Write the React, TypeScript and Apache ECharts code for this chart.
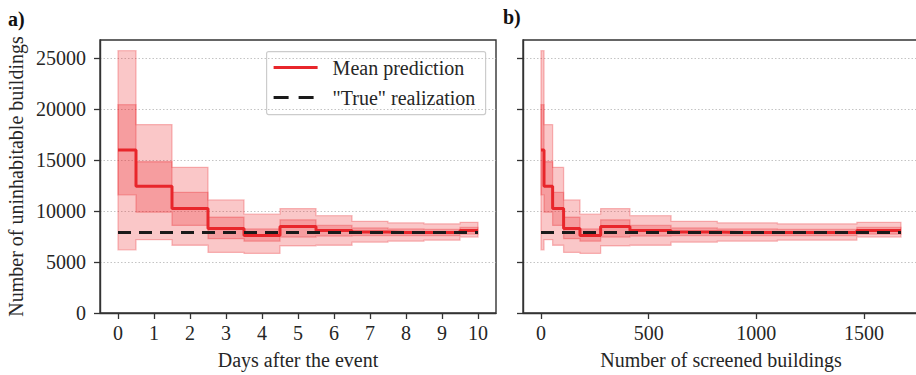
import React, { useEffect, useRef } from "react";
import * as echarts from "echarts";

// ---- data ----
const days = [0, 1, 2, 3, 4, 5, 6, 7, 8, 9, 10];
const screenedBuildings = [0, 28, 80, 130, 232, 322, 504, 704, 934, 1262, 1672];
const meanPrediction = [16000, 12450, 10250, 8300, 7600, 8500, 8100, 7950, 7900, 7900, 8100];
const outerLow = [6200, 7200, 6650, 5950, 5850, 6600, 6650, 6950, 7050, 7150, 7450];
const outerHigh = [25750, 18500, 14300, 11100, 9700, 10250, 9550, 9000, 8850, 8750, 8900];
const innerLow = [11600, 9900, 8600, 7300, 7050, 7450, 7550, 7600, 7600, 7600, 7750];
const innerHigh = [20450, 14850, 11850, 9400, 8250, 9150, 8600, 8350, 8250, 8200, 8400];
const trueRealization = 7900;

const yTicks = [0, 5000, 10000, 15000, 20000, 25000];
const dayTicks = [0, 1, 2, 3, 4, 5, 6, 7, 8, 9, 10];
const screenedTicks = [0, 500, 1000, 1500];

const FONT = "Liberation Serif";
const AXIS_COLOR = "#333333";
const RED = "#e8262b";
const BAND_FILL = "rgba(235, 30, 35, 0.25)";
const BAND_EDGE = "rgba(235, 30, 35, 0.28)";

function bandSeries(xs: number[], low: number[], high: number[], idx: number, z: number) {
  return {
    type: "custom",
    xAxisIndex: idx,
    yAxisIndex: idx,
    silent: true,
    z,
    clip: false,
    data: xs.map((x, i) => [x, low[i], high[i]]),
    encode: { x: 0, y: [1, 2] },
    renderItem: (params: any, api: any) => {
      if (params.dataIndex !== 0) return null;
      const n = xs.length;
      const xv: number[] = [];
      const lo: number[] = [];
      const hi: number[] = [];
      for (let i = 0; i < n; i++) {
        xv.push(api.value(0, i));
        lo.push(api.value(1, i));
        hi.push(api.value(2, i));
      }
      // step 'mid' boundaries
      const b: number[] = [xv[0]];
      for (let i = 1; i < n; i++) b.push((xv[i - 1] + xv[i]) / 2);
      b.push(xv[n - 1]);
      const pts: number[][] = [];
      for (let i = 0; i < n; i++) {
        pts.push(api.coord([b[i], hi[i]]));
        pts.push(api.coord([b[i + 1], hi[i]]));
      }
      for (let i = n - 1; i >= 0; i--) {
        pts.push(api.coord([b[i + 1], lo[i]]));
        pts.push(api.coord([b[i], lo[i]]));
      }
      return {
        type: "polygon",
        shape: { points: pts },
        style: { fill: BAND_FILL, stroke: BAND_EDGE, lineWidth: 1.3 },
      };
    },
  };
}

function panelSeries(xs: number[], idx: number) {
  return [
    bandSeries(xs, outerLow, outerHigh, idx, 2),
    bandSeries(xs, innerLow, innerHigh, idx, 3),
    {
      type: "line",
      name: "Mean prediction",
      xAxisIndex: idx,
      yAxisIndex: idx,
      step: "middle",
      symbol: "none",
      silent: true,
      z: 4,
      lineStyle: { color: RED, width: 3 },
      data: xs.map((x, i) => [x, meanPrediction[i]]),
    },
    {
      type: "line",
      name: '"True" realization',
      xAxisIndex: idx,
      yAxisIndex: idx,
      symbol: "none",
      silent: true,
      z: 5,
      lineStyle: { color: "#1a1a1a", width: 3, type: [13, 8] },
      data: [
        [xs[0], trueRealization],
        [xs[xs.length - 1], trueRealization],
      ],
    },
  ];
}

const labelStyle = { fontFamily: FONT, fontSize: 20, color: "#262626" };
const plain = (v: number) => String(v);

function xAxis(idx: number, min: number, max: number, ticks: number[], name: string) {
  return {
    type: "value",
    gridIndex: idx,
    min,
    max,
    name,
    nameLocation: "middle",
    nameGap: 37,
    nameTextStyle: { fontFamily: FONT, fontSize: 20, color: "#262626" },
    axisLine: { show: true, onZero: false, lineStyle: { color: AXIS_COLOR, width: 1.4 } },
    axisTick: { show: true, length: 6, customValues: ticks, lineStyle: { color: AXIS_COLOR, width: 1.3 } },
    axisLabel: { ...labelStyle, margin: 10, customValues: ticks, formatter: plain },
    splitLine: { show: false },
  };
}

function yAxis(idx: number, showLabels: boolean) {
  return {
    type: "value",
    gridIndex: idx,
    min: 0,
    max: 26800,
    interval: 5000,
    name: showLabels ? "Number of uninhabitable buildings" : "",
    nameLocation: "middle",
    nameGap: 74,
    nameTextStyle: { fontFamily: FONT, fontSize: 20, color: "#262626" },
    axisLine: { show: true, onZero: false, lineStyle: { color: AXIS_COLOR, width: 1.4 } },
    axisTick: { show: true, length: 6, customValues: yTicks, lineStyle: { color: AXIS_COLOR, width: 1.3 } },
    axisLabel: { ...labelStyle, show: showLabels, margin: 14, customValues: yTicks, formatter: plain },
    splitLine: { show: true, lineStyle: { color: "#c4c4c4", width: 1, type: [1.5, 2] } },
  };
}

export default function App() {
  const ref = useRef<HTMLDivElement>(null);
  useEffect(() => {
    if (!ref.current) return;
    const chart = echarts.init(ref.current, null, { renderer: "svg" });
    chart.setOption({
      animation: false,
      backgroundColor: "#ffffff",
      grid: [
        { left: 100, top: 40, width: 396, height: 275, show: true, borderColor: AXIS_COLOR, borderWidth: 1.4, backgroundColor: "transparent" },
        { left: 523, top: 40, width: 396, height: 275, show: true, borderColor: AXIS_COLOR, borderWidth: 1.4, backgroundColor: "transparent" },
      ],
      xAxis: [
        xAxis(0, -0.5, 10.5, dayTicks, "Days after the event"),
        xAxis(1, -83.6, 1755.6, screenedTicks, "Number of screened buildings"),
      ],
      yAxis: [yAxis(0, true), yAxis(1, false)],
      series: [...panelSeries(days, 0), ...panelSeries(screenedBuildings, 1)],
      graphic: [
        { type: "text", left: 8, top: 9, style: { text: "a)", font: `bold 20px "${FONT}"`, fill: "#111" } },
        { type: "text", left: 503, top: 7, style: { text: "b)", font: `bold 20px "${FONT}"`, fill: "#111" } },
        {
          type: "group",
          left: 266,
          top: 51,
          z: 100,
          children: [
            { type: "rect", shape: { x: 0, y: 0, width: 219, height: 63, r: 2 }, style: { fill: "rgba(255,255,255,0.85)", stroke: "#cccccc", lineWidth: 1.2 } },
            { type: "line", shape: { x1: 7, y1: 16, x2: 51, y2: 16 }, style: { stroke: RED, lineWidth: 3 } },
            { type: "text", x: 66, y: 16, style: { text: "Mean prediction", font: `20px "${FONT}"`, fill: "#262626", verticalAlign: "middle" } },
            { type: "line", shape: { x1: 7, y1: 46, x2: 51, y2: 46 }, style: { stroke: "#1a1a1a", lineWidth: 3, lineDash: [15, 10] } },
            { type: "text", x: 66, y: 46, style: { text: '"True" realization', font: `20px "${FONT}"`, fill: "#262626", verticalAlign: "middle" } },
          ],
        },
      ],
    });
    return () => chart.dispose();
  }, []);
  return (
    <div
      ref={ref}
      style={{ position: "fixed", left: 0, top: 0, width: 930, height: 375, background: "#fff" }}
    />
  );
}
